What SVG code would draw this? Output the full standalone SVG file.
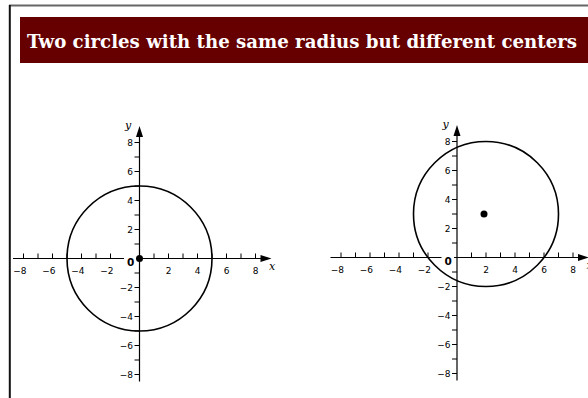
<svg xmlns="http://www.w3.org/2000/svg" xmlns:xlink="http://www.w3.org/1999/xlink" width="588" height="398" viewBox="0 0 588 398">
<style>
.ax{stroke:#000;stroke-width:1.2;fill:none}
.tk{stroke:#000;stroke-width:1;fill:none}
.circ{stroke:#000;stroke-width:1.6;fill:none}
.num{font-family:"DejaVu Sans",sans-serif;font-size:9px;fill:#000}
.xn{text-anchor:end}
.yn{text-anchor:end}
.zero{font-family:"DejaVu Sans",sans-serif;font-size:10.5px;font-weight:bold;text-anchor:middle;fill:#000}
.var{font-family:"DejaVu Serif","Liberation Serif",serif;font-size:11px;font-style:italic;text-anchor:middle;fill:#000}
.title{font-family:"DejaVu Serif","Liberation Serif",serif;font-size:18.5px;font-weight:bold;fill:#fff}
</style>
<defs>
<g id="axes">
<path class="ax" d="M-126.5,0H122M0,123V-122"/>
<polygon points="132,0 121,-3.5 121,3.5" fill="#000"/>
<polygon points="0,-132.5 -3.5,-121.5 3.5,-121.5" fill="#000"/>
<path class="tk" d="M-116,0v-5M-101.5,0v-5M-87,0v-5M-72.5,0v-5M-58,0v-5M-43.5,0v-5M-29,0v-5M-14.5,0v-5M14.5,0v-5M29,0v-5M43.5,0v-5M58,0v-5M72.5,0v-5M87,0v-5M101.5,0v-5M116,0v-5"/>
<path class="tk" d="M0,-116h-5M0,-101.5h-5M0,-87h-5M0,-72.5h-5M0,-58h-5M0,-43.5h-5M0,-29h-5M0,-14.5h-5M0,14.5h-5M0,29h-5M0,43.5h-5M0,58h-5M0,72.5h-5M0,87h-5M0,101.5h-5M0,116h-5"/>
<g class="num xn">
<text x="-113.1" y="15">−8</text>
<text x="-84.1" y="15">−6</text>
<text x="-55.1" y="15">−4</text>
<text x="-26.1" y="15">−2</text>
<text x="31.9" y="15">2</text>
<text x="60.9" y="15">4</text>
<text x="89.9" y="15">6</text>
<text x="118.9" y="15">8</text>
</g>
<g class="num yn">
<text x="-6.5" y="-112.7">8</text>
<text x="-6.5" y="-83.7">6</text>
<text x="-6.5" y="-54.7">4</text>
<text x="-6.5" y="-25.7">2</text>
<text x="-6.5" y="32.3">−2</text>
<text x="-6.5" y="61.3">−4</text>
<text x="-6.5" y="90.3">−6</text>
<text x="-6.5" y="119.3">−8</text>
</g>
<rect x="-15.5" y="-6" width="12.5" height="13" fill="#fff"/>
<text class="zero" x="-8.8" y="7">0</text>
<text class="var" x="132.5" y="11">x</text>
<text class="var" x="-11.5" y="-130">y</text>
</g>
</defs>
<path d="M9,5.5H588" stroke="#666" stroke-width="2" fill="none"/>
<path d="M9.8,5V398" stroke="#111" stroke-width="2" fill="none"/>
<g id="title">
<rect x="20" y="17" width="568" height="46" fill="#660000"/>
<text class="title" x="27" y="47.5" textLength="550" lengthAdjust="spacingAndGlyphs">Two circles with the same radius but different centers</text>
</g>
<g id="plot-left" transform="translate(139.5,258.5)">
<use xlink:href="#axes" href="#axes"/>
<circle class="circ" cx="0" cy="0" r="72.5"/>
<circle cx="0" cy="0" r="3.5" fill="#000"/>
</g>
<g id="plot-right" transform="translate(457,257.5)">
<use xlink:href="#axes" href="#axes"/>
<circle class="circ" cx="29" cy="-43.5" r="72.5"/>
<circle cx="27" cy="-43.5" r="3.5" fill="#000"/>
</g>
</svg>
